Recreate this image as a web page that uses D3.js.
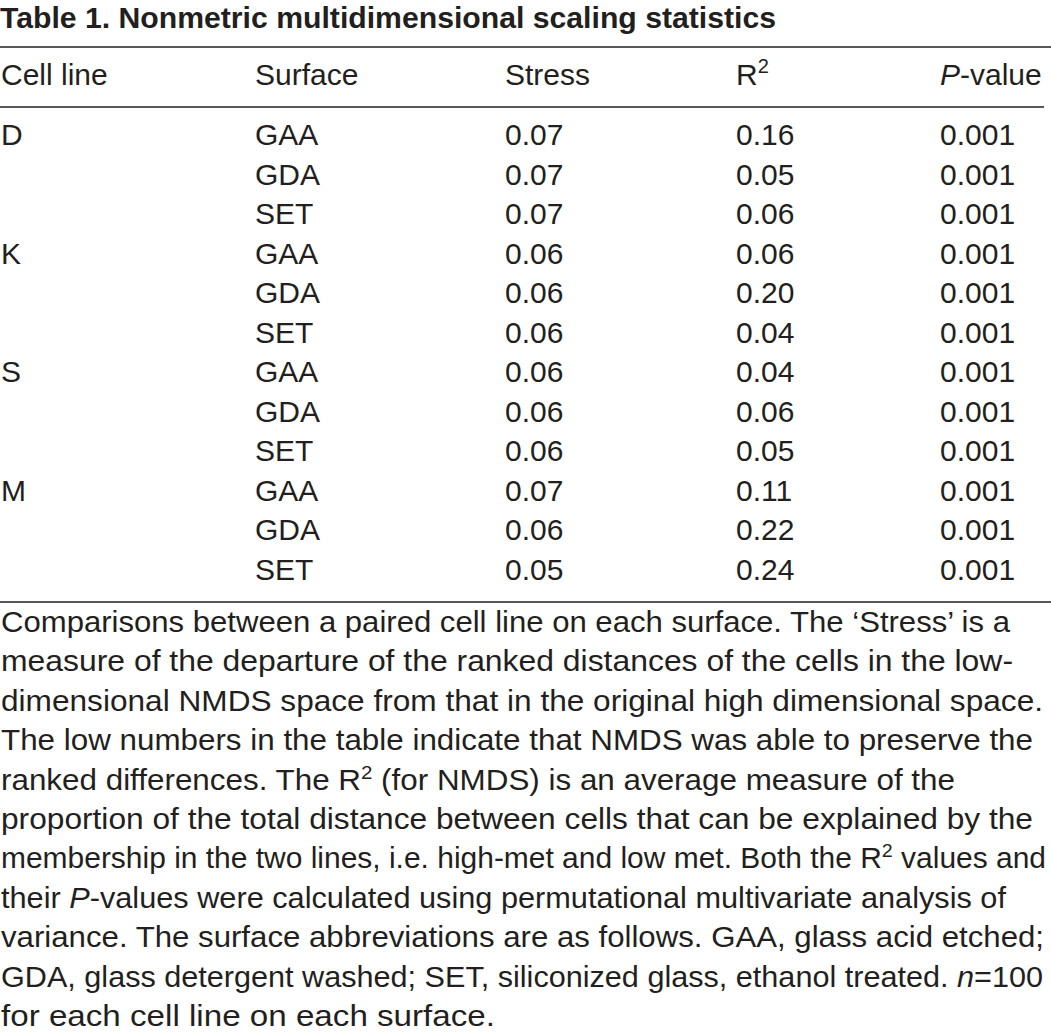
<!DOCTYPE html>
<html>
<head>
    <meta charset="utf-8"/>
    <style>
        body {
            margin: 0;
            background: #fff;
        }

        text {
            font-family: "Liberation Sans", Arial, sans-serif;
            fill: #231f20;
        }
    </style>
</head>
<body>
<div id="table"></div>
<script src="https://cdn.jsdelivr.net/npm/d3@7"></script>
<script type="text/javascript">

    var w = 1051;
    var h = 1032;
    var cellSize = 30;   // table font size
    var noteSize = 29;   // footnote font size

    var title = "Table 1. Nonmetric multidimensional scaling statistics";
    var headers = ["Cell line", "Surface", "Stress", "R2", "P-value"];
    var cellLines = ["D", "", "", "K", "", "", "S", "", "", "M", "", ""];
    var surfaces = ["GAA", "GDA", "SET", "GAA", "GDA", "SET", "GAA", "GDA", "SET", "GAA", "GDA", "SET"];
    var stress = ["0.07", "0.07", "0.07", "0.06", "0.06", "0.06", "0.06", "0.06", "0.06", "0.07", "0.06", "0.05"];
    var rSquared = ["0.16", "0.05", "0.06", "0.06", "0.20", "0.04", "0.04", "0.06", "0.05", "0.11", "0.22", "0.24"];
    var pValues = ["0.001", "0.001", "0.001", "0.001", "0.001", "0.001", "0.001", "0.001", "0.001", "0.001", "0.001", "0.001"];

    // footnote lines, split in runs: "" plain, "i" italic, "sup" superscript
    var noteLines = [
        [["Comparisons between a paired cell line on each surface. The \u2018Stress\u2019 is a", ""]],
        [["measure of the departure of the ranked distances of the cells in the low-", ""]],
        [["dimensional NMDS space from that in the original high dimensional space.", ""]],
        [["The low numbers in the table indicate that NMDS was able to preserve the", ""]],
        [["ranked differences. The R", ""], ["2", "sup"], [" (for NMDS) is an average measure of the", ""]],
        [["proportion of the total distance between cells that can be explained by the", ""]],
        [["membership in the two lines, i.e. high-met and low met. Both the R", ""], ["2", "sup"], [" values and", ""]],
        [["their ", ""], ["P", "i"], ["-values were calculated using permutational multivariate analysis of", ""]],
        [["variance. The surface abbreviations are as follows. GAA, glass acid etched;", ""]],
        [["GDA, glass detergent washed; SET, siliconized glass, ethanol treated. ", ""], ["n", "i"], ["=100", ""]],
        [["for each cell line on each surface.", ""]]
    ];
    // right edge of each footnote line
    var noteEnds = [1010, 1013, 1043, 1033, 955, 1033, 1046, 1006, 1044, 1043, 495];

    var svg = d3.select("#table")
        .append("svg")
        .attr("width", w)
        .attr("height", h);

    var colX = d3.scaleOrdinal()
        .domain(headers)
        .range([1, 255, 505, 736, 940]);

    var rowY = d3.scaleLinear()
        .domain([0, 11])
        .range([145, 579.5]);

    var noteY = d3.scaleLinear()
        .domain([0, 10])
        .range([632, 1026]);

    // title
    svg.append("text")
        .attr("x", 0)
        .attr("y", 28)
        .attr("font-size", 29)
        .attr("font-weight", "bold")
        .attr("textLength", 776)
        .attr("lengthAdjust", "spacingAndGlyphs")
        .text(title);

    // rules
    svg.append("line")
        .attr("x1", 0).attr("x2", w)
        .attr("y1", 47).attr("y2", 47)
        .attr("stroke", "#231f20")
        .attr("stroke-width", 1.5);

    svg.append("line")
        .attr("x1", 0).attr("x2", 1044)
        .attr("y1", 107).attr("y2", 107)
        .attr("stroke", "#58595b")
        .attr("stroke-width", 2);

    svg.append("line")
        .attr("x1", 0).attr("x2", w)
        .attr("y1", 602).attr("y2", 602)
        .attr("stroke", "#231f20")
        .attr("stroke-width", 1.5);

    // header row
    var head = svg.selectAll("text.head")
        .data(headers)
        .enter()
        .append("text")
        .attr("class", "head")
        .attr("x", function (d) {
            return colX(d);
        })
        .attr("y", 85)
        .attr("font-size", cellSize);

    head.each(function (d) {
        var t = d3.select(this);
        if (d === "R2") {
            t.append("tspan").text("R");
            t.append("tspan").attr("font-size", 20).attr("dy", -12).text("2");
        } else if (d === "P-value") {
            t.append("tspan").attr("font-style", "italic").text("P");
            t.append("tspan").text("-value");
        } else {
            t.text(d);
        }
    });

    // body rows
    var columns = [cellLines, surfaces, stress, rSquared, pValues];
    columns.forEach(function (col, ci) {
        svg.selectAll("text.c" + ci)
            .data(col)
            .enter()
            .append("text")
            .attr("class", "c" + ci)
            .attr("x", colX(headers[ci]))
            .attr("y", function (d, i) {
                return rowY(i);
            })
            .attr("font-size", cellSize)
            .text(function (d) {
                return d;
            });
    });

    // footnote
    var notes = svg.selectAll("text.note")
        .data(noteLines)
        .enter()
        .append("text")
        .attr("class", "note")
        .attr("x", 1)
        .attr("y", function (d, i) {
            return noteY(i);
        })
        .attr("font-size", noteSize)
        .attr("textLength", function (d, i) {
            return noteEnds[i] - 1;
        })
        .attr("lengthAdjust", "spacingAndGlyphs");

    notes.each(function (runs) {
        var t = d3.select(this);
        runs.forEach(function (r, i) {
            var s = t.append("tspan").text(r[0]);
            if (r[1] === "i") s.attr("font-style", "italic");
            if (r[1] === "sup") s.attr("font-size", 19).attr("dy", -11);
            // bring the baseline back after a superscript
            if (i > 0 && runs[i - 1][1] === "sup") s.attr("dy", 11);
        });
    });

</script>
</body>
</html>
